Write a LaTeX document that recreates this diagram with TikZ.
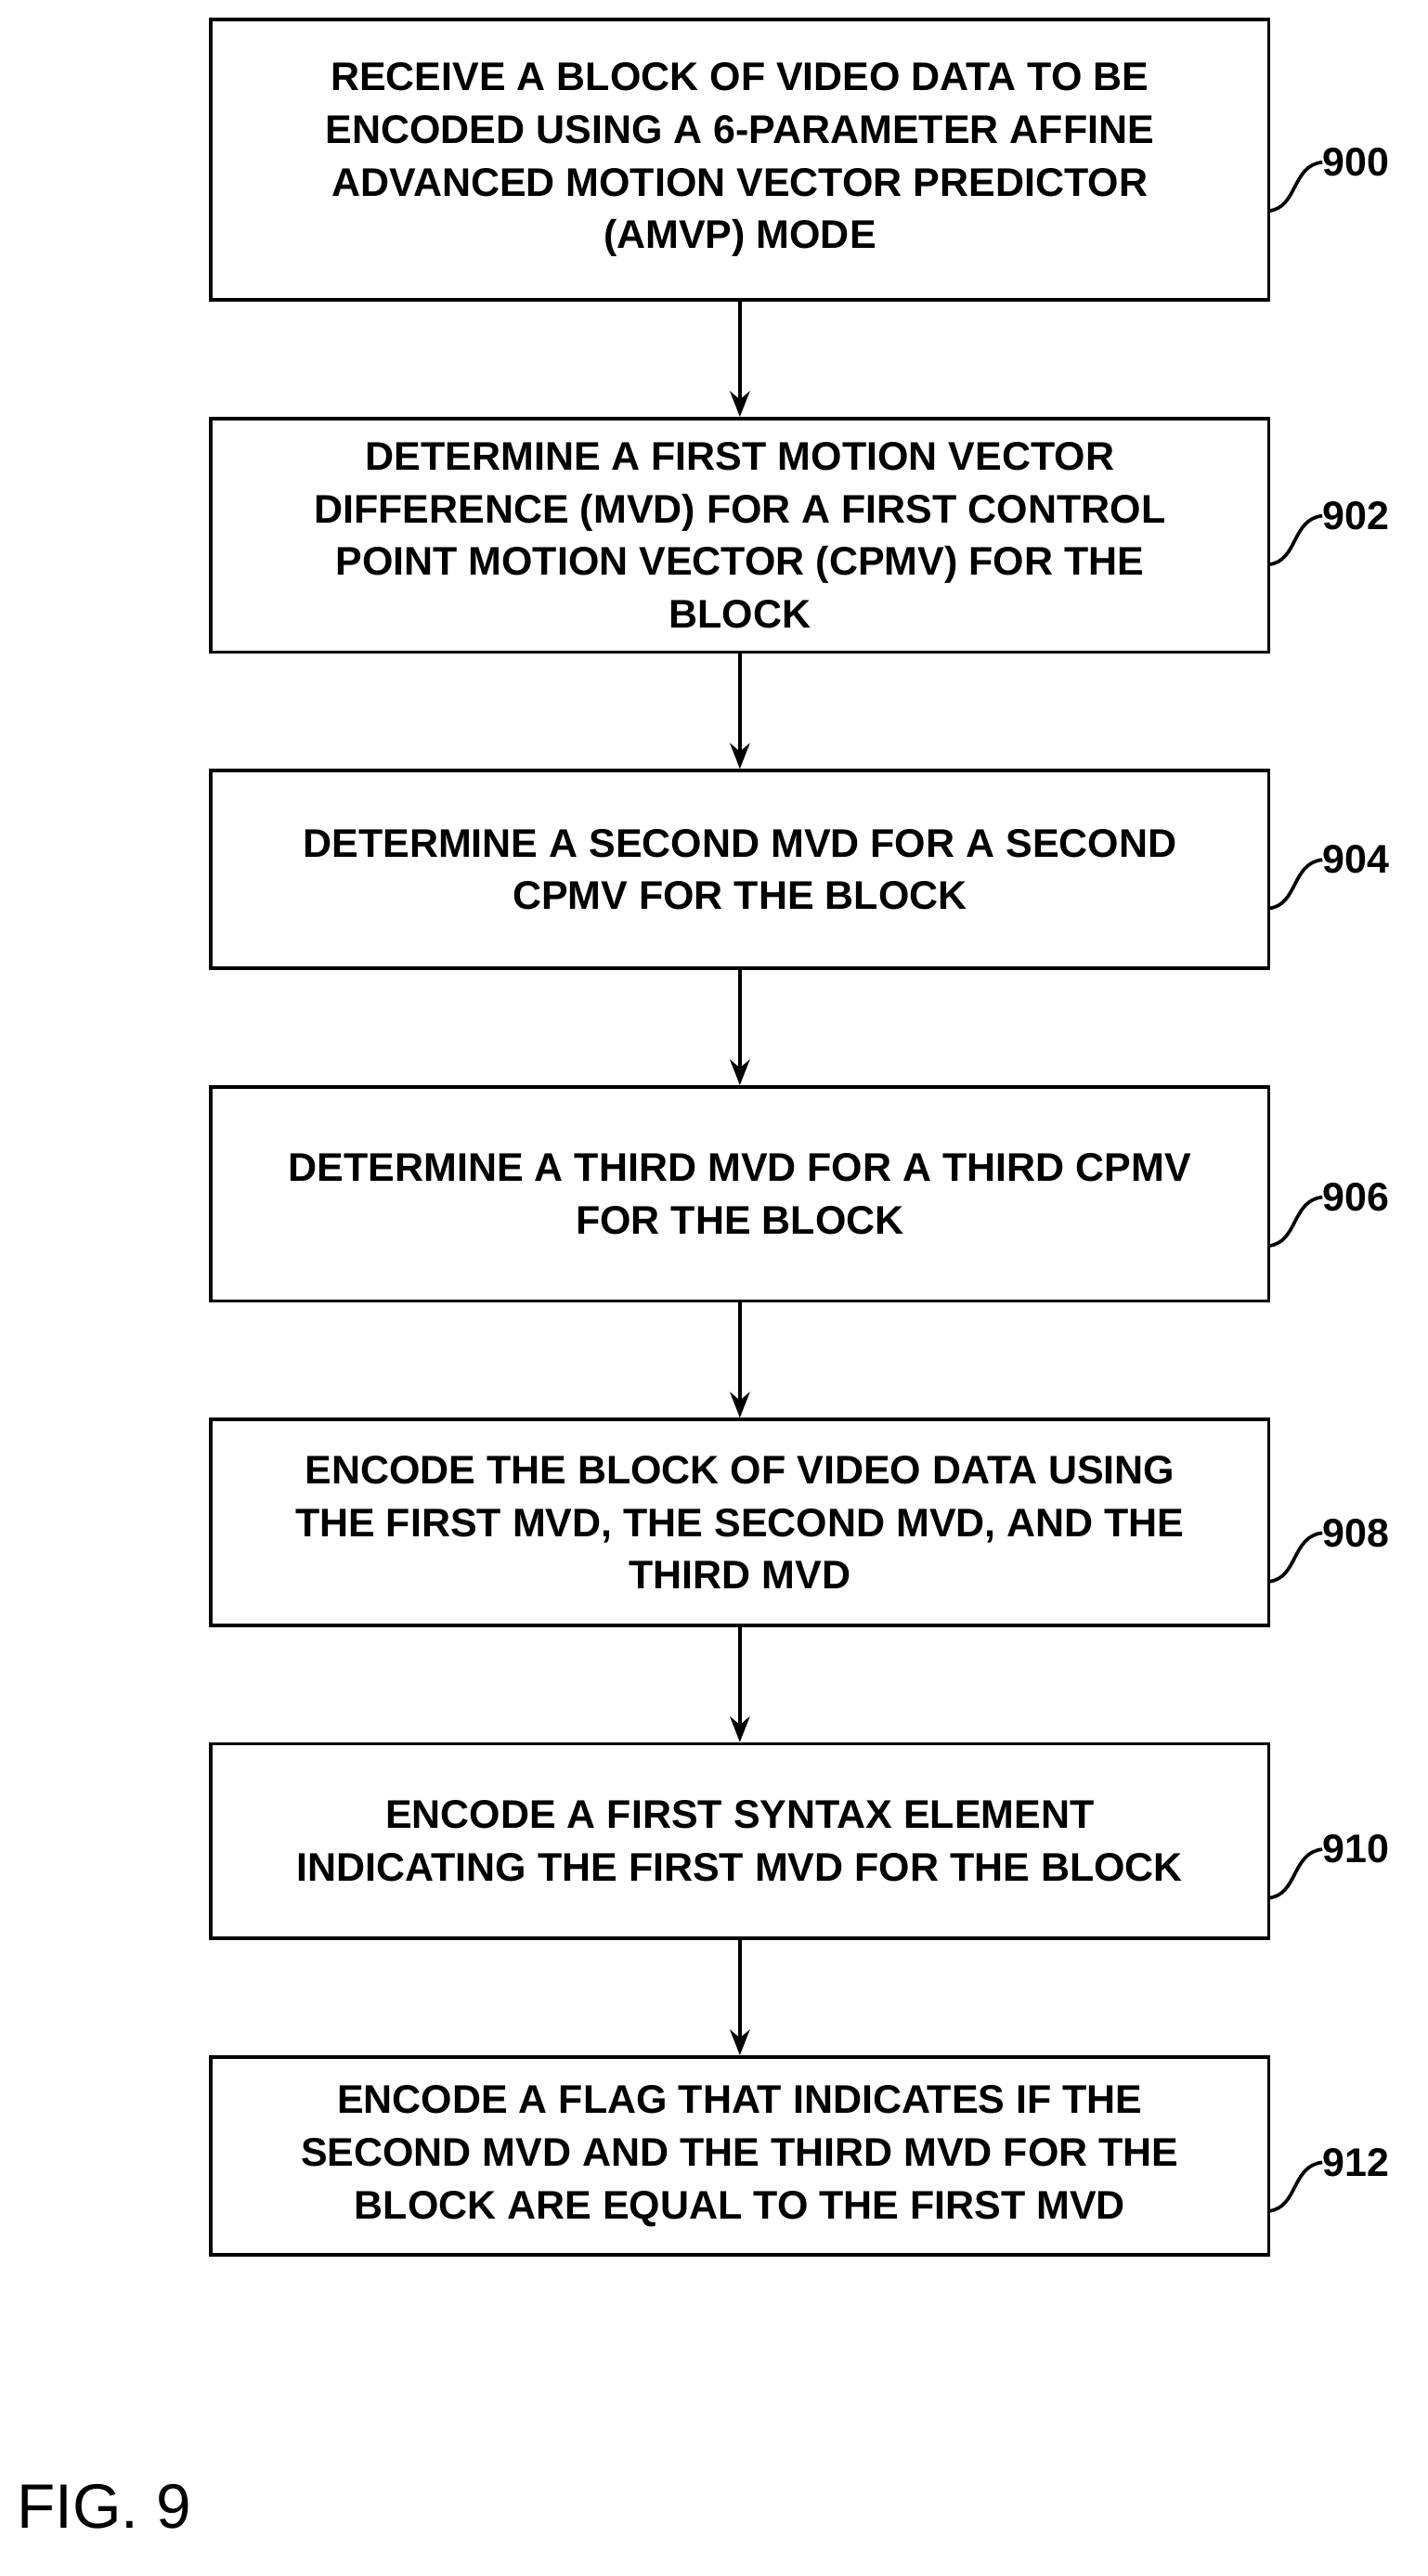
\documentclass[tikz,border=0pt]{standalone}
\usepackage{fontspec}
\setmainfont{Liberation Sans}
\usetikzlibrary{positioning,arrows.meta}
\tikzset{
        stage/.style = {rectangle,draw=black,line width=1.2pt,minimum width=13.04cm,align=center,inner sep=0pt,font=\fontsize{14}{18.5}\selectfont\bfseries},
        lbl/.style = {font=\fontsize{14}{16}\selectfont\bfseries,anchor=west,inner sep=0pt},
        flow/.style = {-{Stealth[length=9pt,width=7pt]},line width=1.2pt}
    }
\begin{document}
\begin{tikzpicture}[x=0.02cm,y=-0.02cm]
            \useasboundingbox (0,0) rectangle (880,1588);
            \node[stage,minimum height=3.46cm] (s900) at (456,98.5) {RECEIVE A BLOCK OF VIDEO DATA TO BE\\ENCODED USING A 6-PARAMETER AFFINE\\ADVANCED MOTION VECTOR PREDICTOR\\(AMVP) MODE};
            \node[stage,minimum height=2.88cm] (s902) at (456,330) {DETERMINE A FIRST MOTION VECTOR\\DIFFERENCE (MVD) FOR A FIRST CONTROL\\POINT MOTION VECTOR (CPMV) FOR THE\\BLOCK};
            \node[stage,minimum height=2.44cm] (s904) at (456,536) {DETERMINE A SECOND MVD FOR A SECOND\\CPMV FOR THE BLOCK};
            \node[stage,minimum height=2.64cm] (s906) at (456,736) {DETERMINE A THIRD MVD FOR A THIRD CPMV\\FOR THE BLOCK};
            \node[stage,minimum height=2.54cm] (s908) at (456,938.5) {ENCODE THE BLOCK OF VIDEO DATA USING\\THE FIRST MVD, THE SECOND MVD, AND THE\\THIRD MVD};
            \node[stage,minimum height=2.4cm] (s910) at (456,1135) {ENCODE A FIRST SYNTAX ELEMENT\\INDICATING THE FIRST MVD FOR THE BLOCK};
            \node[stage,minimum height=2.44cm] (s912) at (456,1329) {ENCODE A FLAG THAT INDICATES IF THE\\SECOND MVD AND THE THIRD MVD FOR THE\\BLOCK ARE EQUAL TO THE FIRST MVD};

            \draw[flow] (s900) -- (s902);
            \draw[flow] (s902) -- (s904);
            \draw[flow] (s904) -- (s906);
            \draw[flow] (s906) -- (s908);
            \draw[flow] (s908) -- (s910);
            \draw[flow] (s910) -- (s912);

            \foreach \n/\y in {900/100,902/318,904/530,906/738,908/945,910/1140,912/1333} {
                \node[lbl] (l\n) at (815,\y) {\n};
                \coordinate (t\n) at (782,\y+30);
                \draw[line width=1.2pt] (t\n) .. controls (800,\y+28) and (796,\y+2) .. (l\n.west);
            }

            \node[font=\fontsize{22}{24}\selectfont,anchor=west,inner sep=0pt] (fig) at (10,1545) {FIG. 9};
        \end{tikzpicture}
\end{document}
